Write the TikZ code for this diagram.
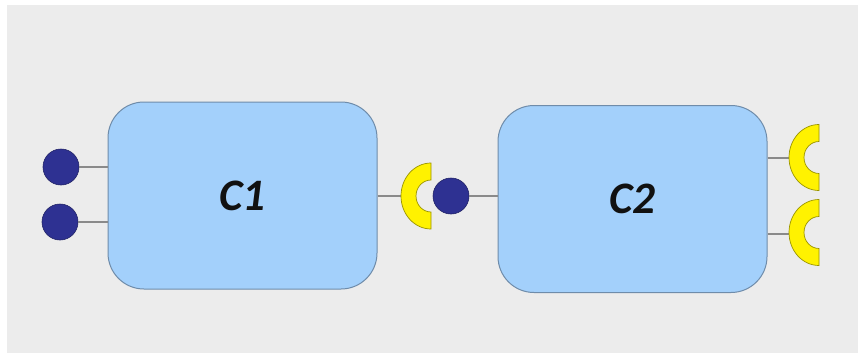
\documentclass[tikz,border=0pt]{standalone}
\usepackage{fontspec}
\setmainfont{Carlito}
\definecolor{bgray}{HTML}{ECECEC}
\definecolor{boxfill}{HTML}{A3D0FB}
\definecolor{boxline}{HTML}{6F8CAA}
\definecolor{navy}{HTML}{2E3192}
\definecolor{ryellow}{HTML}{FFF200}
\definecolor{rline}{HTML}{9A9400}
\definecolor{wire}{HTML}{8A8A8A}
\definecolor{ink}{HTML}{111111}
\tikzset{
  comp/.style={draw=boxline, line width=1pt, fill=boxfill, rounded corners=36pt,
    minimum width=269pt, minimum height=187pt, inner sep=0pt, text=ink,
    font=\fontsize{45}{50}\selectfont\bfseries\itshape},
  port/.style={circle, draw=navy!70!black, line width=0.6pt, fill=navy, minimum size=36pt, inner sep=0pt},
  wireline/.style={draw=wire, line width=1.2pt},
  halfring/.pic={
    \path[fill=ryellow, draw=rline, line width=0.7pt]
      (0,-33) arc[start angle=-90, end angle=-270, x radius=30, y radius=33]
      -- (0,16) arc[start angle=90, end angle=270, x radius=15, y radius=16] -- cycle;
  }
}
\begin{document}
\begin{tikzpicture}[x=1pt,y=-1pt]
\useasboundingbox (0,0) rectangle (858,353);
\fill[bgray] (7,5) rectangle (858,353);
% components
\node[comp] (C1) at (242.5,195.5) {C1};
\node[comp] (C2) at (632.5,199) {C2};
% left ports of C1
\node[port] (p1) at (61,167) {};
\node[port] (p2) at (60,222) {};
\draw[wireline] (p1.east) -- (C1.west |- p1.east);
\draw[wireline] (p2.east) -- (C1.west |- p2.east);
% C1 right ring
\coordinate (r1) at (401,196);
\draw[wireline] (C1.east |- r1) -- (r1);
\pic at (431,196) {halfring};
% C2 left port
\node[port] (p3) at (451,196) {};
\draw[wireline] (p3.east) -- (C2.west |- p3.east);
% C2 right rings
\coordinate (r2) at (790,158);
\coordinate (r3) at (790,234);
\draw[wireline] (C2.east |- r2) -- (r2);
\draw[wireline] (C2.east |- r3) -- (r3);
\pic at (819,157.5) {halfring};
\pic at (819,232.5) {halfring};
\end{tikzpicture}
\end{document}
